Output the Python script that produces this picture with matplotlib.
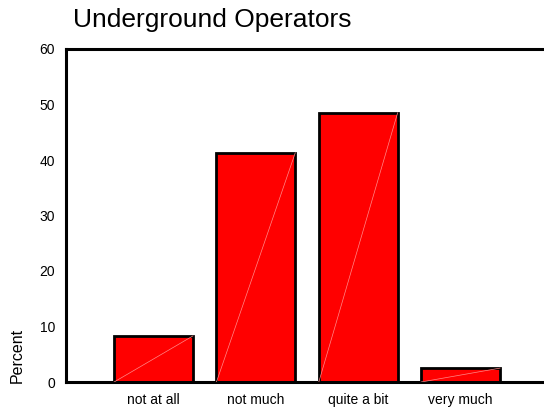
import matplotlib.pyplot as plt

categories = ['not at all', 'not much', 'quite a bit', 'very much']
percent = [8.3, 41.3, 48.5, 2.5]
yticks = [0, 10, 20, 30, 40, 50, 60]

plt.rcParams['font.family'] = ['Liberation Sans', 'DejaVu Sans']

fig = plt.figure(figsize=(5.44, 4.09), dpi=100)
# axes run off the right edge like in the original
ax = fig.add_axes([66 / 544, 1 - 382 / 409, 500 / 544, 333 / 409])

x = list(range(len(categories)))
bars = ax.bar(x, percent, width=0.77, color='#ff0000', edgecolor='black', linewidth=2)

# faint diagonal seam inside each bar
for b in bars:
    x0, y0 = b.get_x(), b.get_y()
    ax.plot([x0, x0 + b.get_width()], [y0, y0 + b.get_height()],
            color='#ff8a8a', linewidth=0.5, zorder=3)

ax.set_xlim(-0.855, 4.03)
ax.set_ylim(0, 60)
ax.set_xticks(x)
ax.set_xticklabels(categories, fontsize=10)
ax.set_yticks(yticks)
ax.set_yticklabels([str(v) for v in yticks], fontsize=10)
ax.tick_params(length=0, pad=8)

for s in ax.spines.values():
    s.set_linewidth(2.2)

fig.text(73 / 544, 1 - 27.5 / 409, 'Underground Operators', fontsize=19, ha='left', va='baseline')
fig.text(17 / 544, 1 - 355 / 409, 'Percent', fontsize=11.5, rotation=90, ha='center', va='center')

fig.savefig('out.png', dpi=100)
